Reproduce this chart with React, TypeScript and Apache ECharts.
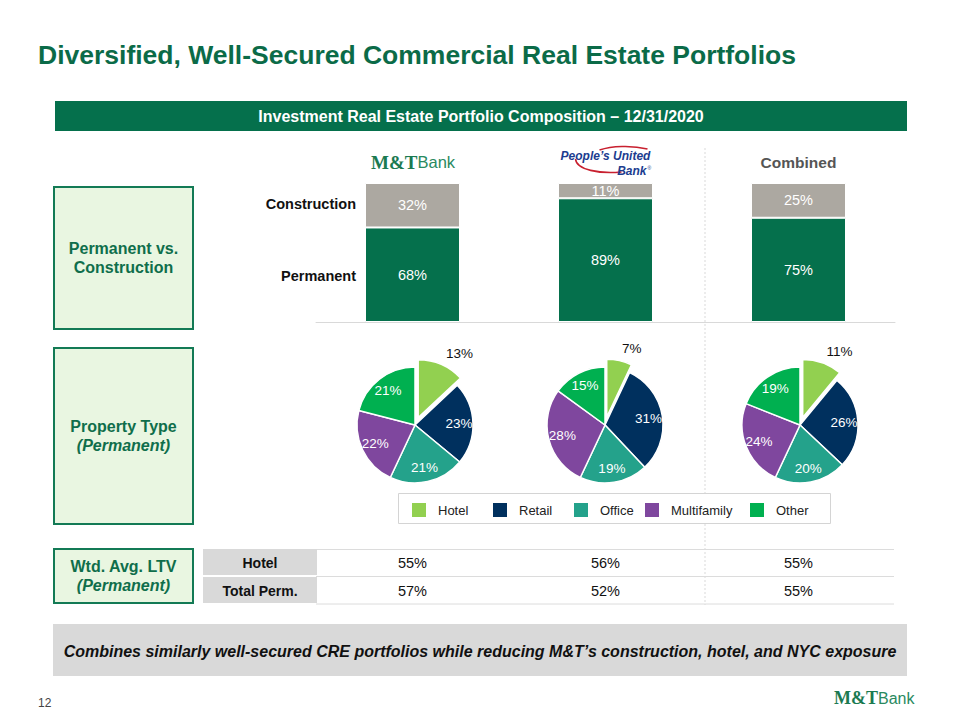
import React, { useEffect, useRef } from "react";
import * as echarts from "echarts";

// ---------- data ----------
const CATEGORIES = ["M&T Bank", "People's United Bank", "Combined"];
const SEGMENTS = ["Permanent", "Construction"];
const PERMANENT = [68, 89, 75];
const CONSTRUCTION = [32, 11, 25];
const PROPERTY_TYPES = ["Hotel", "Retail", "Office", "Multifamily", "Other"];
const MIX_MTB = [13, 23, 21, 22, 21];
const MIX_PBCT = [7, 31, 19, 28, 15];
const MIX_COMBINED = [11, 26, 20, 24, 19];
const LTV_ROW_LABELS = ["Hotel", "Total Perm."];
const LTV_HOTEL = [55, 56, 55];
const LTV_TOTAL = [57, 52, 55];

// ---------- layout / style ----------
const FONT = '"Liberation Sans", Arial, Helvetica, sans-serif';
const SERIF = '"Liberation Serif", "DejaVu Serif", serif';
const GREEN = "#05704c";
const TITLE_GREEN = "#0b6b48";
const GRAY_BAR = "#aca8a1";
const PIE_COLORS = ["#92d050", "#00305e", "#24a28b", "#7f479e", "#00b050"];
const GRID = { left: 316, top: 183, width: 579, height: 139 };
const PIE_X = [415, 605, 800];
const PIE_Y = 425;
const PIE_R = 58;
const LEGEND_X = [410, 491, 572, 643, 748];

const colCenter = (i: number) => GRID.left + ((i + 0.5) * GRID.width) / 3;

echarts.graphic.registerShape(
  "pbctSwoosh",
  echarts.graphic.extendPath(
    "M 16 14 C 17 25 40 29 62 27 M 40 5 C 52 1 72 0 88 4",
    {}
  )
);

function txt(
  x: number,
  y: number,
  text: string,
  s: any = {},
  extra: any = {}
) {
  const align = s.align || "center";
  return {
    type: "text",
    x,
    y,
    z: 20,
    ...extra,
    style: {
      text,
      fill: "#111",
      fontFamily: FONT,
      fontSize: 14,
      ...s,
      align,
      textAlign: align,
      verticalAlign: "middle",
      textVerticalAlign: "middle",
    },
  };
}

function buildGraphic() {
  const g: any[] = [];
  // title
  g.push(
    txt(38, 55, "Diversified, Well-Secured Commercial Real Estate Portfolios", {
      align: "left",
      fontSize: 26.5,
      fontWeight: "bold",
      fill: TITLE_GREEN,
    })
  );
  // header band
  g.push({ type: "rect", z: 5, shape: { x: 55, y: 101, width: 852, height: 30 }, style: { fill: GREEN } });
  g.push(
    txt(481, 116, "Investment Real Estate Portfolio Composition – 12/31/2020", {
      fontSize: 16,
      fontWeight: "bold",
      fill: "#fff",
    })
  );
  // left boxes
  const boxes = [
    { y: 187, h: 142, l1: "Permanent vs.", l2: "Construction", it: false },
    { y: 348, h: 176, l1: "Property Type", l2: "(Permanent)", it: true },
    { y: 549, h: 54, l1: "Wtd. Avg. LTV", l2: "(Permanent)", it: true },
  ];
  boxes.forEach((b) => {
    g.push({
      type: "rect",
      z: 5,
      shape: { x: 54, y: b.y, width: 139, height: b.h },
      style: { fill: "#e9f6e1", stroke: "#137a55", lineWidth: 2 },
    });
    const cy = b.y + b.h / 2;
    g.push(txt(123.5, cy - 9.5, b.l1, { fontSize: 16, fontWeight: "bold", fill: "#0f6e4b" }));
    g.push(
      txt(123.5, cy + 9.5, b.l2, {
        fontSize: 16,
        fontWeight: "bold",
        fontStyle: b.it ? "italic" : "normal",
        fill: "#0f6e4b",
      })
    );
  });
  // divider
  g.push({
    type: "line",
    z: 1,
    shape: { x1: 705, y1: 148, x2: 705, y2: 605 },
    style: { stroke: "#d9d9d9", lineWidth: 1, lineDash: [2, 2] },
  });
  // logos / column headers
  const c0 = colCenter(0);
  g.push(txt(c0 + 5, 162, "M&T", { align: "right", fontFamily: SERIF, fontWeight: "bold", fontSize: 19, fill: "#1b7a51" }));
  g.push(txt(c0 + 5, 162, "Bank", { align: "left", fontSize: 16.5, fill: "#2a8a5f" }));
  const c1 = colCenter(1);
  g.push({
    type: "pbctSwoosh",
    x: c1 - 46,
    y: 145,
    z: 19,
    style: { stroke: "#c8202f", fill: "none", lineWidth: 1.6 },
  });
  g.push(txt(c1, 155.5, "People’s United", { fontSize: 12, fontWeight: "bold", fontStyle: "italic", fill: "#1c3c8f" }));
  g.push(txt(c1 + 41, 170.5, "Bank", { align: "right", fontSize: 12, fontWeight: "bold", fontStyle: "italic", fill: "#1c3c8f" }));
  g.push(txt(c1 + 42, 168, "®", { align: "left", fontSize: 5, fill: "#1c3c8f" }));
  g.push(txt(colCenter(2), 162, CATEGORIES[2], { fontSize: 15.5, fontWeight: "bold", fill: "#555" }));
  // segment labels
  g.push(txt(356, 204, SEGMENTS[1], { align: "right", fontSize: 14.5, fontWeight: "bold" }));
  g.push(txt(356, 276, SEGMENTS[0], { align: "right", fontSize: 14.5, fontWeight: "bold" }));
  // legend frame
  g.push({
    type: "rect",
    z: 2,
    shape: { x: 398.5, y: 493.5, width: 432, height: 30 },
    style: { fill: "#fff", stroke: "#d4d4d4", lineWidth: 1 },
  });
  // table
  const rows = [LTV_HOTEL, LTV_TOTAL];
  const rowTop = [549, 577];
  [549.5, 576.5, 604].forEach((y) =>
    g.push({
      type: "line",
      z: 3,
      shape: { x1: 316, y1: y, x2: 894, y2: y },
      style: { stroke: "#dcdcdc", lineWidth: 1 },
    })
  );
  rows.forEach((vals, r) => {
    g.push({
      type: "rect",
      z: 4,
      shape: { x: 203, y: rowTop[r], width: 114, height: 26 },
      style: { fill: "#d9d9d9" },
    });
    g.push(txt(260, rowTop[r] + 13.5, LTV_ROW_LABELS[r], { fontSize: 14, fontWeight: "bold" }));
    vals.forEach((v, i) => g.push(txt(colCenter(i), rowTop[r] + 13.5, v + "%", { fontSize: 14.5 })));
  });
  // footer
  g.push({ type: "rect", z: 5, shape: { x: 53, y: 624, width: 854, height: 52 }, style: { fill: "#d9d9d9" } });
  g.push(
    txt(
      480,
      651,
      "Combines similarly well-secured CRE portfolios while reducing M&T’s construction, hotel, and NYC exposure",
      { fontSize: 16, fontWeight: "bold", fontStyle: "italic" }
    )
  );
  g.push(txt(38, 703, "12", { align: "left", fontSize: 12, fill: "#444" }));
  g.push(txt(878, 698, "M&T", { align: "right", fontFamily: SERIF, fontWeight: "bold", fontSize: 18, fill: "#1b7a51" }));
  g.push(txt(878, 698, "Bank", { align: "left", fontSize: 16, fill: "#2a8a5f" }));
  return g;
}

function pieMain(mix: number[], i: number) {
  return {
    type: "pie",
    name: CATEGORIES[i],
    center: [PIE_X[i], PIE_Y],
    radius: PIE_R,
    startAngle: 90,
    clockwise: true,
    selectedMode: "multiple",
    selectedOffset: 8,
    avoidLabelOverlap: false,
    silent: true,
    z: 2,
    itemStyle: { borderColor: "#fff", borderWidth: 1.5 },
    label: { show: false },
    labelLine: { show: false },
    emphasis: { disabled: true },
    data: mix.map((v, k) => ({
      name: PROPERTY_TYPES[k],
      value: v,
      selected: k === 0,
      itemStyle: { color: PIE_COLORS[k] },
      label:
        k === 0
          ? {
              show: true,
              position: "outside",
              color: "#111",
              fontSize: 13.5,
              fontFamily: FONT,
              formatter: "{c}%",
              distanceToLabelLine: 0,
            }
          : { show: false },
      labelLine: k === 0 ? { show: false, length: 12, length2: 0 } : { show: false },
    })),
  };
}

function pieLabels(mix: number[], i: number) {
  return {
    type: "pie",
    name: CATEGORIES[i] + " labels",
    center: [PIE_X[i], PIE_Y],
    radius: [0, 82],
    startAngle: 90,
    clockwise: true,
    avoidLabelOverlap: false,
    silent: true,
    z: 3,
    itemStyle: { color: "rgba(0,0,0,0)", borderWidth: 0 },
    label: {
      show: true,
      position: "inside",
      color: "#fff",
      fontSize: 13.5,
      fontFamily: FONT,
      formatter: "{c}%",
    },
    labelLine: { show: false },
    emphasis: { disabled: true },
    data: mix.map((v, k) => ({
      name: PROPERTY_TYPES[k],
      value: v,
      label: k === 0 ? { show: false } : undefined,
    })),
  };
}

export default function App() {
  const ref = useRef<HTMLDivElement>(null);
  useEffect(() => {
    if (!ref.current) return;
    const chart = echarts.init(ref.current, undefined, { renderer: "svg" });
    const barLabel = {
      show: true,
      position: "inside",
      color: "#fff",
      fontSize: 14.5,
      fontFamily: FONT,
      formatter: "{c}%",
    };
    chart.setOption({
      animation: false,
      backgroundColor: "#fff",
      textStyle: { fontFamily: FONT },
      grid: { ...GRID },
      xAxis: {
        type: "category",
        data: CATEGORIES,
        axisLine: { lineStyle: { color: "#d9d9d9", width: 1 } },
        axisTick: { show: false },
        axisLabel: { show: false },
      },
      yAxis: { type: "value", min: 0, max: 100, show: false },
      legend: PROPERTY_TYPES.map((n, i) => ({
        data: [n],
        left: LEGEND_X[i],
        top: 501,
        padding: 0,
        icon: "rect",
        itemWidth: 16,
        itemHeight: 16,
        selectedMode: false,
        textStyle: { fontSize: 13, color: "#222", fontFamily: FONT, padding: [0, 0, 0, 6] },
      })),
      graphic: { elements: buildGraphic() },
      series: [
        {
          type: "bar",
          name: SEGMENTS[0],
          stack: "total",
          barWidth: 95,
          data: PERMANENT,
          silent: true,
          itemStyle: { color: GREEN, borderColor: "#fff", borderWidth: 1 },
          label: barLabel,
        },
        {
          type: "bar",
          name: SEGMENTS[1],
          stack: "total",
          barWidth: 95,
          data: CONSTRUCTION,
          silent: true,
          itemStyle: { color: GRAY_BAR, borderColor: "#fff", borderWidth: 1 },
          label: barLabel,
        },
        pieMain(MIX_MTB, 0),
        pieMain(MIX_PBCT, 1),
        pieMain(MIX_COMBINED, 2),
        pieLabels(MIX_MTB, 0),
        pieLabels(MIX_PBCT, 1),
        pieLabels(MIX_COMBINED, 2),
      ],
    });
    return () => chart.dispose();
  }, []);
  return (
    <div
      ref={ref}
      style={{ position: "fixed", left: 0, top: 0, width: 960, height: 720, background: "#fff" }}
    />
  );
}
